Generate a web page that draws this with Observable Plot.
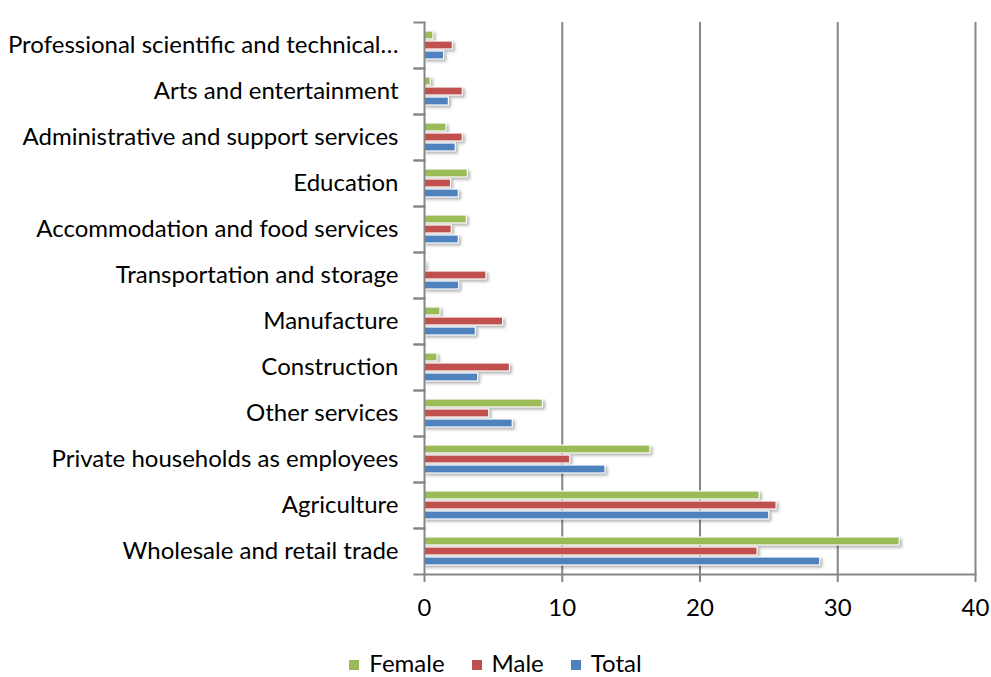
<!DOCTYPE html>
<html>
<head>
<meta charset="utf-8">
<script src="https://cdn.jsdelivr.net/npm/d3@7"></script>
<script src="https://cdn.jsdelivr.net/npm/@observablehq/plot@0.6"></script>
<style>
  html, body { margin: 0; padding: 0; background: #fff; }
  body { position: relative; width: 991px; height: 677px; overflow: hidden; font-family: Lato, "Open Sans", sans-serif; }
  #chart svg g[aria-label="bar"] { filter: drop-shadow(2px 2px 1.5px rgba(0,0,0,0.3)); }
  .legend { position: absolute; left: 0; top: 651px; width: 991px; height: 24px; line-height: 24px; display: flex; justify-content: center; align-items: center; gap: 27px; font-size: 24px; color: #000; }
  .legend span.item { display: flex; align-items: center; gap: 10px; }
  .legend span.sw { width: 10px; height: 10px; display: inline-block; margin-top: 3px; }
</style>
</head>
<body>
<div id="chart"></div>
<div class="legend" id="legend"></div>
<script>
const categories = [
  "Professional scientific and technical…",
  "Arts and entertainment",
  "Administrative and support services",
  "Education",
  "Accommodation and food services",
  "Transportation and storage",
  "Manufacture",
  "Construction",
  "Other services",
  "Private households as employees",
  "Agriculture",
  "Wholesale and retail trade"
];
const series = ["Female", "Male", "Total"];
const female = [0.65, 0.46, 1.6, 3.15, 3.07, 0.1, 1.16, 0.94, 8.6, 16.4, 24.33, 34.5];
const male   = [2.06, 2.78, 2.78, 1.93, 1.98, 4.5, 5.71, 6.2, 4.7, 10.58, 25.56, 24.18];
const total  = [1.43, 1.77, 2.27, 2.49, 2.49, 2.52, 3.73, 3.9, 6.41, 13.14, 25.03, 28.73];
const xTicks = [0, 10, 20, 30, 40];
const colors = ["#9BBB59", "#C0504D", "#4F81BD"];

const valuesBySeries = {Female: female, Male: male, Total: total};
const data = [];
categories.forEach((c, i) => {
  series.forEach(s => data.push({category: c, series: s, value: valuesBySeries[s][i]}));
});

const W = 991, H = 641, ML = 424, MR = 16, MT = 17, MB = 63;
const plotW = W - ML - MR;
const axisGray = "#868686";

const chart = Plot.plot({
  width: W,
  height: H,
  marginLeft: ML,
  marginRight: MR,
  marginTop: MT,
  marginBottom: MB,
  style: {fontFamily: "Lato, 'Open Sans', sans-serif", fontSize: "24px", color: "#000", background: "#fff"},
  x: {domain: [0, 40], ticks: xTicks},
  y: {domain: series, paddingInner: 0.19, paddingOuter: 0.82, axis: null},
  fy: {domain: categories, padding: 0, label: null},
  color: {domain: series, range: colors},
  marks: [
    Plot.ruleX(xTicks.slice(1), {stroke: axisGray, strokeWidth: 2}),
    Plot.barX(data, {x: "value", y: "series", fy: "category", fill: "series", stroke: "#fff", strokeWidth: 1.2}),
    Plot.ruleX([0], {stroke: axisGray, strokeWidth: 2}),
    Plot.frame({anchor: "top", insetLeft: -10, insetRight: plotW, stroke: axisGray, strokeWidth: 2}),
    Plot.frame({anchor: "bottom", insetLeft: -10, insetRight: plotW, stroke: axisGray, strokeWidth: 2}),
    Plot.frame({anchor: "bottom", fy: () => categories[categories.length - 1], stroke: axisGray, strokeWidth: 2}),
    Plot.axisFy({anchor: "left", tickSize: 0, tickPadding: 26, label: null, fill: "#000"}),
    Plot.axisX({anchor: "bottom", ticks: xTicks, tickSize: 8, tickPadding: 16, stroke: axisGray, strokeWidth: 2, label: null, fill: "#000"})
  ]
});
document.getElementById("chart").appendChild(chart);

const legend = document.getElementById("legend");
series.forEach((s, i) => {
  const item = document.createElement("span");
  item.className = "item";
  const sw = document.createElement("span");
  sw.className = "sw";
  sw.style.background = colors[i];
  const t = document.createElement("span");
  t.textContent = s;
  item.appendChild(sw);
  item.appendChild(t);
  legend.appendChild(item);
});
</script>
</body>
</html>
